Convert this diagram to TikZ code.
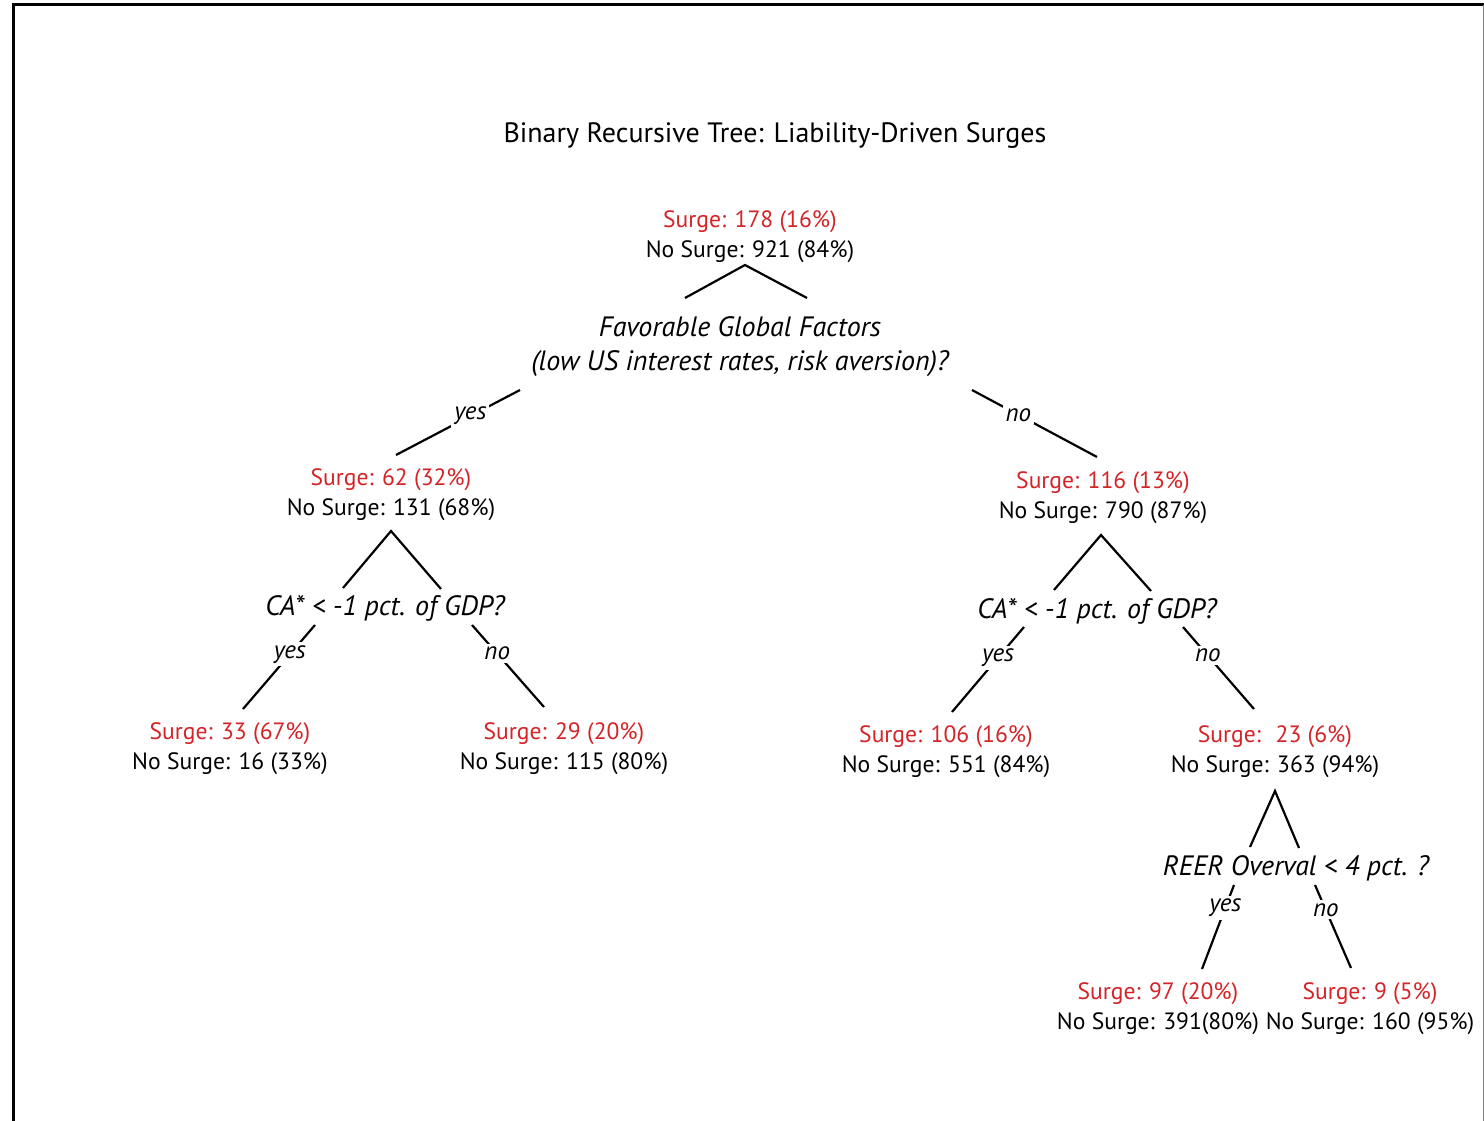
\documentclass[tikz,border=0pt]{standalone}
\usepackage{fontspec}
\setmainfont{PT Sans}
\usetikzlibrary{positioning}
\definecolor{surgered}{RGB}{212,36,40}
\newcommand{\splitcounts}[2]{\textcolor{surgered}{Surge: #1}\\No Surge: #2}

\begin{document}
\begin{tikzpicture}[x=1pt,y=-1pt,
    every node/.style={inner sep=0pt,font=\fontsize{23.6}{30}\selectfont},
    leaf/.style={align=center},
    question/.style={align=center,font=\fontsize{28}{34}\selectfont\itshape},
    answer/.style={fill=white,inner sep=3pt,font=\fontsize{25}{28}\selectfont\itshape},
    branch/.style={line width=2.2pt}]
        \useasboundingbox (0,0) rectangle (1484,1121);
        \fill[white] (0,0) rectangle (1484,1121);
        % frame
        \draw[line width=3pt] (13,1121) -- (13,5) -- (1484,5);
        \draw[gray,line width=1pt] (1483,5) -- (1483,1121);

        \node[font=\fontsize{28}{34}\selectfont] (title) at (775,136) {Binary Recursive Tree: Liability-Driven Surges};

        % splits and leaves
        \node[leaf] (root) at (750,237) {\splitcounts{178 (16\%)}{921 (84\%)}};
        \node[question] (qglobal) at (740,347) {Favorable Global Factors\\(low US interest rates, risk aversion)?};
        \node[leaf] (nyes) at (391,495) {\splitcounts{62 (32\%)}{131 (68\%)}};
        \node[leaf] (nno) at (1103,498) {\splitcounts{116 (13\%)}{790 (87\%)}};
        \node[question] (qcaleft) at (385,608) {CA* < -1 pct. of GDP?};
        \node[question] (qcaright) at (1097,611) {CA* < -1 pct. of GDP?};
        \node[leaf] (nyesyes) at (230,749) {\splitcounts{33 (67\%)}{16 (33\%)}};
        \node[leaf] (nyesno) at (564,749) {\splitcounts{29 (20\%)}{115 (80\%)}};
        \node[leaf] (nnoyes) at (946,752) {\splitcounts{106 (16\%)}{551 (84\%)}};
        \node[leaf] (nnono) at (1275,752) {\splitcounts{\ 23 (6\%)}{363 (94\%)}};
        \node[question] (qreer) at (1296,868) {REER Overval < 4 pct. ?};
        \node[leaf] (nreeryes) at (1158,1009) {\splitcounts{97 (20\%)}{391(80\%)}};
        \node[leaf] (nreerno) at (1370,1009) {\splitcounts{9 (5\%)}{160 (95\%)}};

        % tent under each split node
        \coordinate (rootapex) at (745,265);
        \coordinate (globall) at (685,298);
        \coordinate (globalr) at (807,298);
        \coordinate (nyesapex) at (391,531);
        \coordinate (caleftl) at (343,588);
        \coordinate (caleftr) at (441,589);
        \coordinate (nnoapex) at (1101,535);
        \coordinate (carightl) at (1054,590);
        \coordinate (carightr) at (1151,591);
        \coordinate (nnonoapex) at (1275,791);
        \coordinate (reerl) at (1250,847);
        \coordinate (reerr) at (1299,848);
        \draw[branch] (globall) -- (rootapex) -- (globalr);
        \draw[branch] (caleftl) -- (nyesapex) -- (caleftr);
        \draw[branch] (carightl) -- (nnoapex) -- (carightr);
        \draw[branch] (reerl) -- (nnonoapex) -- (reerr);

        % yes / no branches
        \coordinate (globalyes) at (520,390);
        \coordinate (nyestop) at (396,455);
        \coordinate (globalno) at (972,390);
        \coordinate (nnotop) at (1097,457);
        \coordinate (caleftyes) at (315,625);
        \coordinate (nyesyestop) at (243,709);
        \coordinate (caleftno) at (472,625);
        \coordinate (nyesnotop) at (544,707);
        \coordinate (carightyes) at (1024,627);
        \coordinate (nnoyestop) at (952,712);
        \coordinate (carightno) at (1183,627);
        \coordinate (nnonotop) at (1254,709);
        \coordinate (reeryes) at (1234,885);
        \coordinate (nreeryestop) at (1202,969);
        \coordinate (reerno) at (1315,885);
        \coordinate (nreernotop) at (1351,968);
        \draw[branch] (globalyes) -- node[answer,pos=0.4] {yes} (nyestop);
        \draw[branch] (globalno) -- node[answer,pos=0.37] {no} (nnotop);
        \draw[branch] (caleftyes) -- node[answer,pos=0.35] {yes} (nyesyestop);
        \draw[branch] (caleftno) -- node[answer,pos=0.35] {no} (nyesnotop);
        \draw[branch] (carightyes) -- node[answer,pos=0.36] {yes} (nnoyestop);
        \draw[branch] (carightno) -- node[answer,pos=0.35] {no} (nnonotop);
        \draw[branch] (reeryes) -- node[answer,pos=0.27] {yes} (nreeryestop);
        \draw[branch] (reerno) -- node[answer,pos=0.3] {no} (nreernotop);
\end{tikzpicture}
\end{document}
